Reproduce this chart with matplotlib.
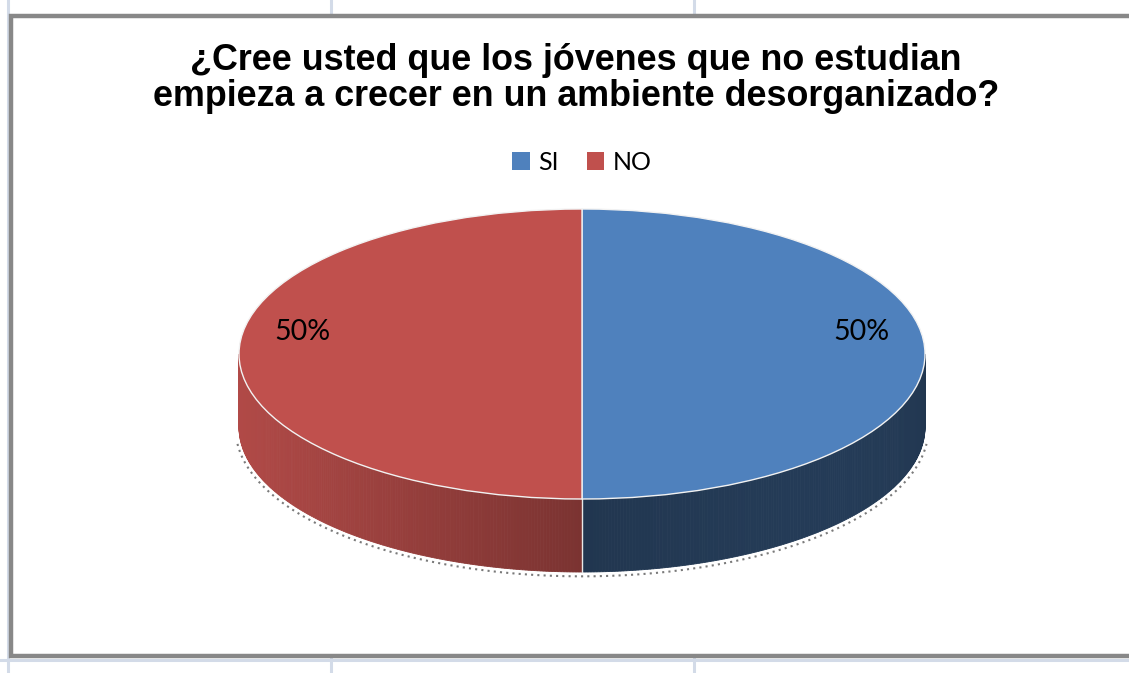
import numpy as np
import matplotlib
matplotlib.use("Agg")
import matplotlib.pyplot as plt
from matplotlib.patches import Rectangle, Patch, Polygon
from matplotlib.lines import Line2D
import matplotlib.colors as mcolors

# ---- data ----
title_lines = ["¿Cree usted que los jóvenes que no estudian",
               "empieza a crecer en un ambiente desorganizado?"]
categories = ["SI", "NO"]
values = [50, 50]
colors = ["#4F81BD", "#C0504D"]

W, H = 1129, 673
fig = plt.figure(figsize=(W / 100, H / 100), dpi=100)
fig.patch.set_facecolor("white")

# background: spreadsheet grid + chart border (pixel coordinates)
bg = fig.add_axes([0, 0, 1, 1])
bg.set_xlim(0, W)
bg.set_ylim(H, 0)
bg.axis("off")
grid_c = "#D3DBE8"
for gx in [7.5, 331, 694]:
    bg.add_line(Line2D([gx, gx], [0, H], color=grid_c, lw=2.2, zorder=0))
bg.add_line(Line2D([0, W], [659.5, 659.5], color=grid_c, lw=2.2, zorder=0))
bg.add_patch(Rectangle((11, 16), W + 20, 639.5, facecolor="white",
                       edgecolor="#888888", lw=3.2, zorder=1))

# title
fig.text(576 / W, 1 - 60 / H, title_lines[0], ha="center", va="center",
         fontsize=25.8, fontweight="bold", family="Liberation Sans", color="black")
fig.text(576 / W, 1 - 97 / H, title_lines[1], ha="center", va="center",
         fontsize=25.8, fontweight="bold", family="Liberation Sans", color="black")

# legend
handles = [Patch(facecolor=c, edgecolor="none") for c in colors]
leg = fig.legend(handles, categories, loc="center", bbox_to_anchor=(582 / W, 1 - 162 / H),
                 ncol=2, frameon=False, handlelength=0.7, handleheight=0.7,
                 handletextpad=0.35, columnspacing=1.1,
                 prop={"family": "Lato", "size": 18})

# pie axes: ellipse centre (582,354), semi-axes 343 x 145 px, depth 73 px
cx, cy, ax_px, by_px = 582, 354, 343, 145
x0, x1, y0, y1 = -1.2, 1.2, -1.8, 1.2
left = (cx + x0 * ax_px) / W
width = (x1 - x0) * ax_px / W
bottom = 1 - (cy - y0 * by_px) / H
height = (y1 - y0) * by_px / H
ax = fig.add_axes([left, bottom, width, height])
ax.patch.set_alpha(0)

wedges, texts, autotexts = ax.pie(values, colors=colors, startangle=90, counterclock=False,
                                  autopct="%1.0f%%", pctdistance=0.815,
                                  wedgeprops=dict(edgecolor="#F2F2F2", linewidth=1.0),
                                  textprops=dict(family="Lato", size=20.5, color="black"))
ax.set_aspect("auto")
ax.set_xlim(x0, x1)
ax.set_ylim(y0, y1)
ax.axis("off")
for w in wedges:
    w.set_zorder(3)
for t in autotexts:
    px, py = t.get_position()
    t.set_position((px, py + 0.15))
    t.set_zorder(5)

depth = 73 / by_px


def shade(i, t):
    # side brightness factor by angle (degrees)
    tm = t % 360
    if colors[i] == "#C0504D":
        return 0.64 + 0.28 * max(0.0, -np.cos(np.radians(tm)))
    return 0.42 + 0.04 * np.sin(np.radians(tm - 270) * 2)


for i, w in enumerate(wedges):
    th1, th2 = w.theta1, w.theta2
    ts = np.linspace(th1, th2, 361)
    base = np.array(mcolors.to_rgb(colors[i]))
    for a, b in zip(ts[:-1], ts[1:]):
        m = 0.5 * (a + b)
        if np.sin(np.radians(m)) > 0:
            continue
        ra, rb = np.radians(a), np.radians(b)
        pts = [(np.cos(ra), np.sin(ra)), (np.cos(rb), np.sin(rb)),
               (np.cos(rb), np.sin(rb) - depth), (np.cos(ra), np.sin(ra) - depth)]
        c = np.clip(base * shade(i, m), 0, 1)
        ax.add_patch(Polygon(pts, closed=True, facecolor=c, edgecolor=c, lw=0.6, zorder=1))

# split line on the side (front, at 270 deg)
ax.add_line(Line2D([0, 0], [-1, -1 - depth], color="#E8E8E8", lw=1.0, zorder=2))

# dotted shadow outline
tt = np.radians(np.linspace(186, 354, 200))
ax.plot(1.01 * np.cos(tt), 1.02 * np.sin(tt) - depth - 0.01, color="#333333",
        lw=1.5, ls=(0, (1, 2)), alpha=0.65, zorder=0.5)

fig.savefig("out.png", dpi=100)
